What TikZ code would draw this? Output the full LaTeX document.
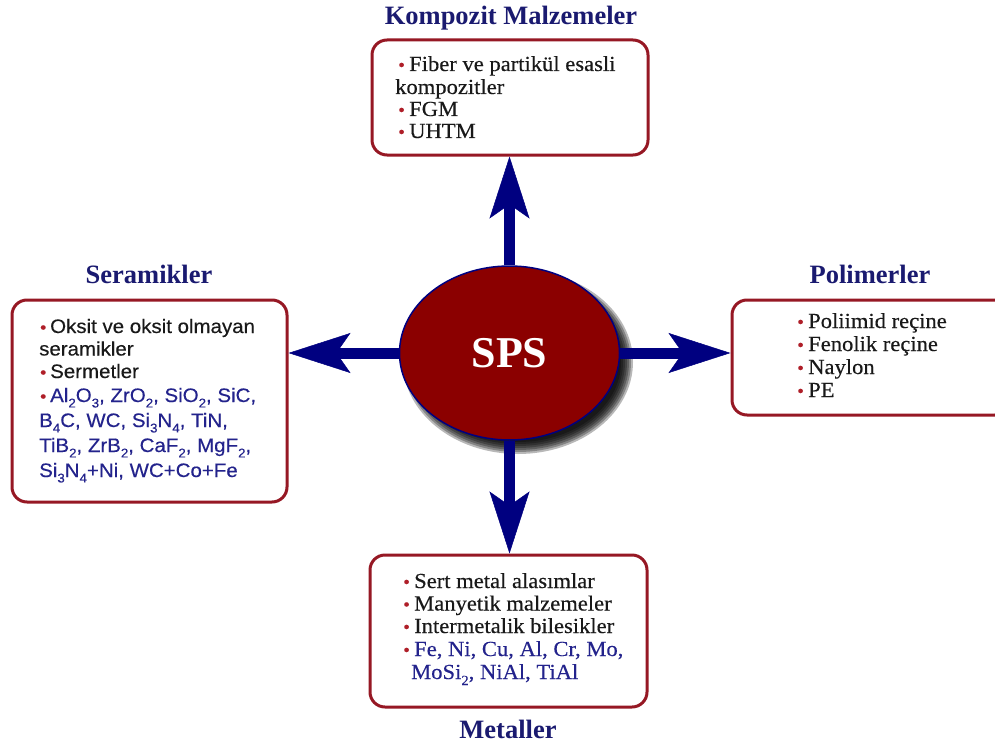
\documentclass[tikz,border=0pt]{standalone}
\usepackage{fontspec}
\setmainfont{Liberation Serif}
\newfontfamily\bodyser[FakeStretch=1.05,FakeBold=0.3]{Liberation Serif}
\newfontfamily\bodysans[FakeStretch=1.05,FakeBold=0.3]{Liberation Sans}
\usetikzlibrary{arrows.meta,shapes.geometric}
\definecolor{navytitle}{RGB}{26,26,112}
\definecolor{arrownavy}{RGB}{0,0,128}
\definecolor{boxred}{RGB}{150,24,36}
\definecolor{spsred}{RGB}{139,0,0}
\definecolor{bulred}{RGB}{175,30,40}
\definecolor{chemblue}{RGB}{35,35,140}
\definecolor{bodyblack}{RGB}{25,25,25}
\newcommand\bul{{\color{bulred}\scalebox{0.85}{•}}\hspace{0.2em}}
\newcommand\chsub[1]{\raisebox{-0.28em}{\scalebox{0.65}{#1}}}
\tikzset{
  matbox/.style={draw=boxred, line width=3pt, rounded corners=15pt, fill=white, inner sep=0pt},
  cattitle/.style={font=\fontsize{26.5}{30}\selectfont\bfseries, text=navytitle, inner sep=0pt, anchor=base},
  serline/.style={font=\bodyser\fontsize{21.5}{23}\selectfont, text=bodyblack, inner sep=0pt, anchor=base west},
  sanline/.style={font=\bodysans\fontsize{19.5}{23}\selectfont, text=bodyblack, inner sep=0pt, anchor=base west},
  spsarrow/.style={line width=11pt, draw=arrownavy, -{Stealth[length=62pt,width=40pt,inset=14pt,line width=0.5pt]}},
  spsnode/.style={ellipse, draw=arrownavy, line width=1.5pt, fill=spsred, minimum width=220pt, minimum height=174pt, inner sep=0pt, text=white, font=\fontsize{44}{48}\selectfont\bfseries}
}
\begin{document}
\begin{tikzpicture}[x=1pt,y=-1pt]
\useasboundingbox (0,0) rectangle (995,749);
\fill[white] (0,0) rectangle (995,749);

% boxes
\node[matbox, minimum width=276pt, minimum height=115pt] (tbox) at (510,97.5) {};
\node[matbox, minimum width=275pt, minimum height=202pt] (lbox) at (149.5,401) {};
\begin{scope}
\clip (0,0) rectangle (995,749);
\node[matbox, minimum width=278pt, minimum height=115pt] (rbox) at (871,357.5) {};
\end{scope}
\node[matbox, minimum width=277pt, minimum height=152pt] (bbox) at (508.5,631) {};

% titles
\node[cattitle] (ttop) at (511,25) {Kompozit Malzemeler};
\node[cattitle] (tleft) at (149,283) {Seramikler};
\node[cattitle] (tright) at (870,283) {Polimerler};
\node[cattitle] (tbot) at (508,738) {Metaller};

% shadow of SPS
\foreach \d in {-7,-5,...,5} {
  \fill[black, opacity=0.28] (518,362) ellipse [x radius={110+\d}, y radius={87+\d}];
}
\node[spsnode] (sps) at (509.5,353) {SPS};

% arrows
\draw[spsarrow] (sps.north) -- (sps.north |- tbox.south);
\draw[spsarrow] (sps.south) -- (sps.south |- bbox.north);
\draw[spsarrow] (sps.west) -- (sps.west -| lbox.east);
\draw[spsarrow] (sps.east) -- (sps.east -| rbox.west);

% top box text
\node[serline] (tl1) at (398,71) {\bul Fiber ve partikül esasli};
\node[serline] (tl2) at (395,94) {kompozitler};
\node[serline] (tl3) at (398,116) {\bul FGM};
\node[serline] (tl4) at (398,138) {\bul UHTM};

% left box text
\node[sanline] (ll1) at (40,333) {\bul Oksit ve oksit olmayan};
\node[sanline] (ll2) at (39,355.5) {seramikler};
\node[sanline] (ll3) at (40,378) {\bul Sermetler};
\node[sanline] (ll4) at (40,402) {\bul\textcolor{chemblue}{Al\chsub{2}O\chsub{3}, ZrO\chsub{2}, SiO\chsub{2}, SiC,}};
\node[sanline, text=chemblue] (ll5) at (39,427) {B\chsub{4}C, WC, Si\chsub{3}N\chsub{4}, TiN,};
\node[sanline, text=chemblue] (ll6) at (39,452) {TiB\chsub{2}, ZrB\chsub{2}, CaF\chsub{2}, MgF\chsub{2},};
\node[sanline, text=chemblue] (ll7) at (39,477) {Si\chsub{3}N\chsub{4}+Ni, WC+Co+Fe};

% right box text
\node[serline] (rl1) at (797,328) {\bul Poliimid reçine};
\node[serline] (rl2) at (797,351) {\bul Fenolik reçine};
\node[serline] (rl3) at (797,374) {\bul Naylon};
\node[serline] (rl4) at (797,397) {\bul PE};

% bottom box text
\node[serline] (bl1) at (403,588) {\bul Sert metal alasımlar};
\node[serline] (bl2) at (403,610.5) {\bul Manyetik malzemeler};
\node[serline] (bl3) at (403,633) {\bul Intermetalik bilesikler};
\node[serline] (bl4) at (403,656) {\bul\textcolor{chemblue}{Fe, Ni, Cu, Al, Cr, Mo,}};
\node[serline, text=chemblue] (bl5) at (411,679) {MoSi\chsub{2}, NiAl, TiAl};
\end{tikzpicture}
\end{document}
